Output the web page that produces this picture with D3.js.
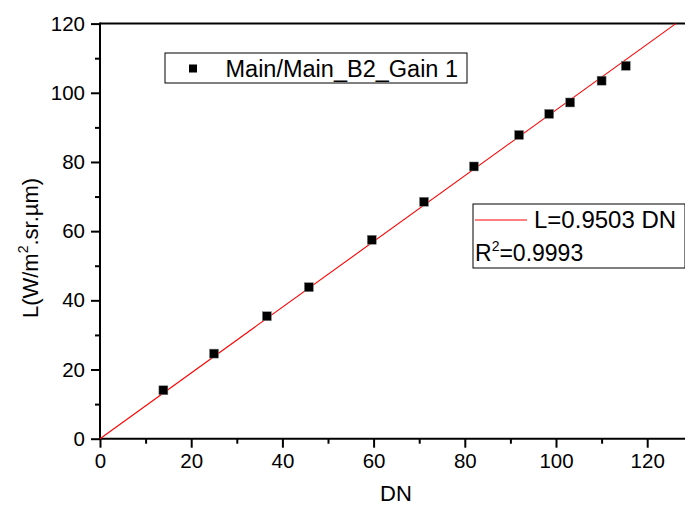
<!DOCTYPE html>
<html><head><meta charset="utf-8">
<script src="https://cdn.jsdelivr.net/npm/d3@7"></script>
<style>body{margin:0;background:#fff}svg{display:block;font-family:"Liberation Sans",Arial,sans-serif}</style>
</head><body><svg id="c" width="685" height="507"></svg>
<script>
const dnValues = [13.9, 25.0, 36.6, 45.8, 59.6, 71.05, 82.0, 91.9, 98.5, 103.1, 110.0, 115.3];
const radianceValues = [14.0, 24.6, 35.4, 43.8, 57.5, 68.5, 78.7, 87.8, 93.9, 97.2, 103.5, 107.8];
const fitSlope = [0.9503];
const xTicks = [0, 20, 40, 60, 80, 100, 120];
const yTicks = [0, 20, 40, 60, 80, 100, 120];
const seriesName = "Main/Main_B2_Gain 1";
const fitLabel = "L=0.9503 DN";
const r2Label = "0.9993";

const svg = d3.select("#c");
const x = d3.scaleLinear().domain([0, 130]).range([100, 100 + 130 * 4.56]);
const y = d3.scaleLinear().domain([0, 120]).range([438.7, 23.6]);

const gx = svg.append("g").attr("transform", `translate(0,${y(0)})`);
gx.call(d3.axisBottom(x).tickValues(d3.range(10, 130, 20)).tickSize(5).tickFormat(""));
gx.call(g => g.select(".domain").remove());
const gx2 = svg.append("g").attr("transform", `translate(0,${y(0)})`);
gx2.call(d3.axisBottom(x).tickValues(xTicks).tickSize(9).tickPadding(6).tickFormat(d3.format("d")));
gx2.selectAll("text").attr("font-size", 20.5).attr("font-family", "Liberation Sans, Arial, sans-serif").attr("fill", "#000");
gx2.select(".domain").remove();

const gy = svg.append("g").attr("transform", `translate(${x(0)},0)`);
gy.call(d3.axisLeft(y).tickValues(d3.range(10, 120, 20)).tickSize(5).tickFormat(""));
gy.call(g => g.select(".domain").remove());
const gy2 = svg.append("g").attr("transform", `translate(${x(0)},0)`);
gy2.call(d3.axisLeft(y).tickValues(yTicks).tickSize(9).tickPadding(6).tickFormat(d3.format("d")));
gy2.selectAll("text").attr("font-size", 20.5).attr("font-family", "Liberation Sans, Arial, sans-serif").attr("fill", "#000");
gy2.select(".domain").remove();
svg.selectAll(".tick line").attr("stroke", "#000").attr("stroke-width", 2);

// axis frame lines
svg.append("line").attr("x1", x(0)).attr("x2", 685).attr("y1", y(0)).attr("y2", y(0)).attr("stroke", "#000").attr("stroke-width", 2);
svg.append("line").attr("x1", x(0)).attr("x2", 685).attr("y1", y(120)).attr("y2", y(120)).attr("stroke", "#000").attr("stroke-width", 2);
svg.append("line").attr("x1", x(0)).attr("x2", x(0)).attr("y1", y(0) + 1).attr("y2", y(120) - 1).attr("stroke", "#000").attr("stroke-width", 2);

// fit line
const xEnd = 120 / fitSlope[0];
svg.append("line").attr("x1", x(0)).attr("y1", y(0)).attr("x2", x(xEnd)).attr("y2", y(fitSlope[0] * xEnd))
  .attr("stroke", "#ff0000").attr("stroke-width", 1.1);

// points
const pts = dnValues.map((d, i) => [d, radianceValues[i]]);
svg.append("g").selectAll("rect").data(pts).join("rect")
  .attr("x", d => x(d[0]) - 4.5).attr("y", d => y(d[1]) - 4.5)
  .attr("width", 9).attr("height", 9).attr("fill", "#000").attr("stroke", "#888").attr("stroke-width", 0.5);

// axis titles
svg.append("text").attr("x", 396).attr("y", 501).attr("text-anchor", "middle").attr("font-size", 22).text("DN");
const yt = svg.append("text").attr("transform", "translate(38,248) rotate(-90)").attr("text-anchor", "middle").attr("font-size", 22);
yt.append("tspan").text("L(W/m");
yt.append("tspan").attr("font-size", 14).attr("dy", -10).text("2");
yt.append("tspan").attr("dy", 10).text(".sr.µm)");

// legend 1
svg.append("rect").attr("x", 165).attr("y", 53).attr("width", 302).attr("height", 30).attr("fill", "#fff").attr("stroke", "#000").attr("stroke-width", 1);
svg.append("rect").attr("x", 189).attr("y", 64.5).attr("width", 8).attr("height", 8).attr("fill", "#000");
svg.append("text").attr("x", 225.5).attr("y", 76.5).attr("font-size", 23.5).text(seriesName);

// legend 2
svg.append("rect").attr("x", 473).attr("y", 204).attr("width", 212).attr("height", 64).attr("fill", "#fff").attr("stroke", "#000").attr("stroke-width", 1);
svg.append("line").attr("x1", 475).attr("x2", 527).attr("y1", 220).attr("y2", 220).attr("stroke", "#ff0000").attr("stroke-width", 1.1);
svg.append("text").attr("x", 534).attr("y", 228).attr("font-size", 24).text(fitLabel);
const r2 = svg.append("text").attr("x", 475).attr("y", 261).attr("font-size", 23);
r2.append("tspan").text("R");
r2.append("tspan").attr("font-size", 14).attr("dy", -10).text("2");
r2.append("tspan").attr("dy", 10).text("=" + r2Label);
</script></body></html>
